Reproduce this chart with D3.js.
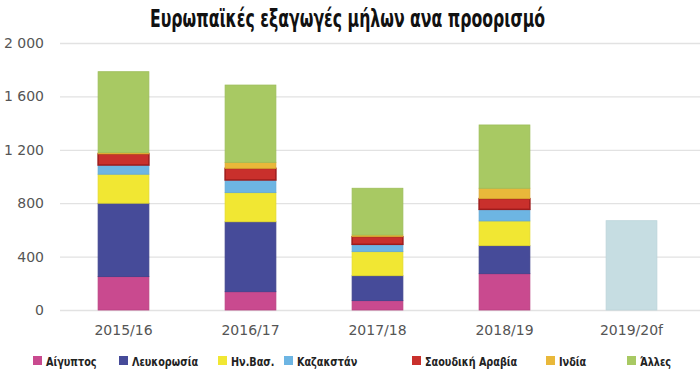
<!DOCTYPE html>
<html>
<head>
<meta charset="utf-8">
<script src="https://cdn.jsdelivr.net/npm/d3@7"></script>
<style>
  body { margin: 0; background: #fff; }
  svg { display: block; }
</style>
</head>
<body>
<svg></svg>
<script>
let years = ['2015/16', '2016/17', '2017/18', '2018/19', '2019/20f']

// thousand tonnes
let egypt      = [250, 137, 70, 272, 0]
let belarus    = [550, 524, 187, 210, 0]
let uae        = [217, 218, 180, 185, 0]
let kazakhstan = [69, 95, 55, 87, 0]
let saudi      = [83, 87, 57, 80, 0]
let india      = [10, 45, 13, 78, 0]
let others     = [606, 579, 350, 474, 0]
let forecast   = [0, 0, 0, 0, 669]

let yTicks = [0, 400, 800, 1200, 1600, 2000]

let seriesNames = ['Αίγυπτος', 'Λευκορωσία', 'Ην.Βασ.', 'Καζακστάν', 'Σαουδική Αραβία', 'Ινδία', 'Άλλες']
let seriesValues = [egypt, belarus, uae, kazakhstan, saudi, india, others]
let colors = ['#c94a8f', '#464b99', '#f1e733', '#6db5e3', '#c9302c', '#e9b83a', '#a8c963']
let strokes = ['#b8407f', '#3d418a', '#e3d92a', '#62a8d6', '#9e1c1c', '#d9a830', '#9cbd58']
let legendX = [33, 119, 218, 284, 412, 546, 627]

let width = 700
let height = 372
let condensed = '"DejaVu Sans Condensed", "Liberation Sans Narrow", sans-serif'

let svg = d3.select('svg').attr('width', width).attr('height', height)

let xScale = d3.scaleBand()
               .domain(years)
               .range([60, 695])
               .paddingInner(0.6)
               .paddingOuter(0.3)

let yScale = d3.scaleLinear()
               .domain([0, 2000])
               .range([310, 43])

// title (squeezed to match the narrow bold face of the original)
svg.append('text')
   .attr('x', 150)
   .attr('y', 27)
   .attr('textLength', 395)
   .attr('lengthAdjust', 'spacingAndGlyphs')
   .style('font-family', condensed)
   .style('font-weight', 'bold')
   .style('font-size', '24px')
   .style('fill', '#111')
   .text('Ευρωπαϊκές εξαγωγές μήλων ανα προορισμό')

// y axis with gridlines
let yAxis = d3.axisLeft(yScale)
              .tickValues(yTicks)
              .tickSizeInner(-640)
              .tickSizeOuter(0)
              .tickPadding(16)
              .tickFormat(d => d3.format(',')(d).replace(',', ' '))

let yG = svg.append('g')
            .attr('transform', 'translate(60,0)')
            .call(yAxis)
yG.select('.domain').remove()
yG.selectAll('line').attr('stroke', '#e2e2e2').attr('stroke-width', 1.3)
yG.selectAll('text')
  .style('font-family', '"DejaVu Sans", sans-serif')
  .style('font-size', '14px')
  .style('fill', '#555')

// stacked bars
let table = years.map((y, i) => {
    let row = { year: y }
    seriesNames.forEach((n, k) => { row[n] = seriesValues[k][i] })
    return row
})
let stacked = d3.stack().keys(seriesNames)(table)

svg.append('g')
   .selectAll('g')
   .data(stacked)
   .enter()
   .append('g')
   .attr('fill', (d, k) => colors[k])
   .attr('stroke', (d, k) => strokes[k])
   .attr('stroke-width', (d, k) => k === 4 ? 1.5 : 0.8)
   .selectAll('rect')
   .data(d => d.filter(p => p[1] - p[0] > 0))
   .enter()
   .append('rect')
   .attr('x', p => xScale(p.data.year))
   .attr('width', xScale.bandwidth())
   .attr('y', p => yScale(p[1]))
   .attr('height', p => yScale(p[0]) - yScale(p[1]))

// forecast bar
svg.append('g')
   .selectAll('rect')
   .data(years.map((y, i) => ({ year: y, v: forecast[i] })).filter(d => d.v > 0))
   .enter()
   .append('rect')
   .attr('x', d => xScale(d.year))
   .attr('width', xScale.bandwidth())
   .attr('y', d => yScale(d.v))
   .attr('height', d => yScale(0) - yScale(d.v))
   .attr('fill', '#c6dde2')
   .attr('stroke', '#bcd4da')
   .attr('stroke-width', 0.8)

// x axis
let xAxis = d3.axisBottom(xScale).tickSize(0).tickPadding(15)
let xG = svg.append('g')
            .attr('transform', 'translate(0,310)')
            .call(xAxis)
xG.select('.domain').remove()
xG.selectAll('text')
  .style('font-family', '"DejaVu Sans", sans-serif')
  .style('font-size', '14px')
  .style('fill', '#555')

// legend
let legend = svg.append('g')
                .selectAll('g')
                .data(seriesNames)
                .enter()
                .append('g')
                .attr('transform', (d, k) => 'translate(' + legendX[k] + ',356)')

legend.append('rect')
      .attr('width', 9)
      .attr('height', 9)
      .attr('fill', (d, k) => colors[k])

legend.append('text')
      .attr('transform', 'translate(13,9.5) scale(0.86,1)')
      .style('font-family', condensed)
      .style('font-weight', 'bold')
      .style('font-size', '12.5px')
      .style('fill', '#222')
      .text(d => d)
</script>
</body>
</html>
